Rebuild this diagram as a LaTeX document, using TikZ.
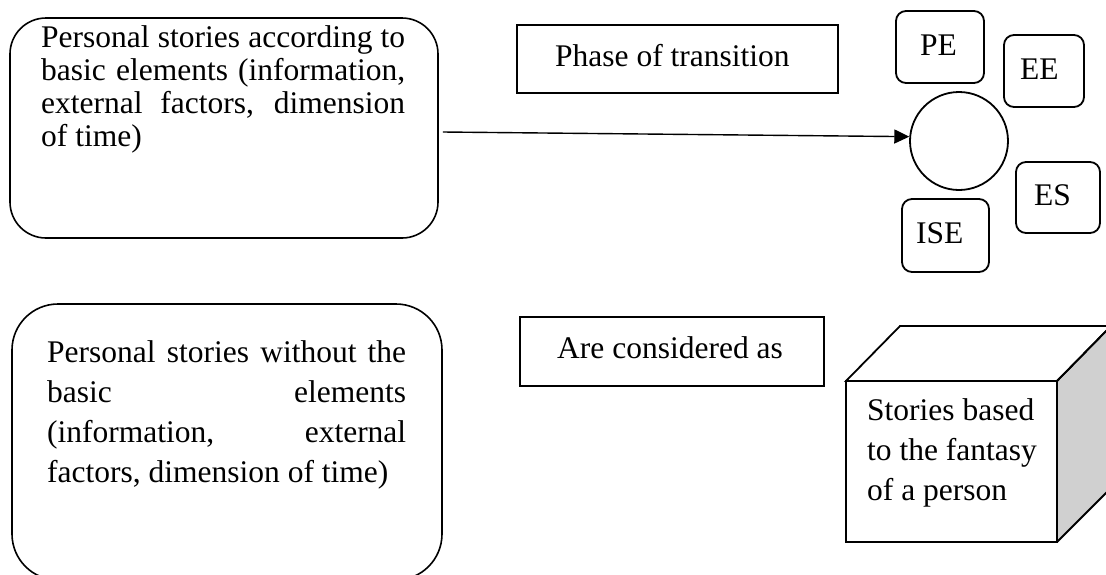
\documentclass[tikz,border=0pt]{standalone}
\usepackage{fontspec}
\setmainfont{Liberation Serif}
\usetikzlibrary{arrows.meta}
\definecolor{cubeside}{RGB}{208,208,208}
% one justified line of a given width
\newcommand\justrow[2]{\hbox{\makebox[#1][s]{#2}}}
\newcommand\leftrow[1]{\hbox{#1}}
\tikzset{
  rbox/.style={draw, line width=1.6pt, rectangle, inner sep=0pt},
  sbox/.style={draw, line width=1.8pt, rectangle, rounded corners=10pt, inner sep=0pt},
  pbox/.style={draw, line width=2.2pt, rectangle, inner sep=0pt},
  txt/.style={anchor=base west, inner sep=0pt, font=\fontsize{31.5}{33}\selectfont},
  cubeline/.style={line width=1.8pt, line join=miter},
}
\begin{document}
\begin{tikzpicture}[x=1pt, y=-1pt]
\useasboundingbox (0,0) rectangle (1106,574);
\clip (0,0) rectangle (1106,574);

% upper left: stories with the basic elements
\node[rbox, rounded corners=36pt, minimum width=428pt, minimum height=220pt] (withel) at (224,128) {};
\node[txt] (withtxt) at (41,47) {\vtop{\fontsize{31.5}{33}\selectfont
  \justrow{364pt}{Personal stories according to}
  \justrow{364pt}{basic elements (information,}
  \justrow{364pt}{external factors, dimension}
  \leftrow{of time)}}};

% lower left: stories without the basic elements
\node[rbox, rounded corners=46pt, minimum width=430pt, minimum height=276pt] (withoutel) at (227,442) {};
\node[txt] (withouttxt) at (47,362) {\vtop{\fontsize{31.5}{40}\selectfont
  \justrow{359pt}{Personal stories without the}
  \justrow{359pt}{basic elements}
  \justrow{359pt}{(information, external}
  \leftrow{factors, dimension of time)}}};

% middle labels
\node[pbox, minimum width=321pt, minimum height=68pt] (phase) at (677.5,59) {};
\node[txt] (phasetxt) at (555,66) {Phase of transition};
\node[pbox, minimum width=304pt, minimum height=69pt] (considered) at (672,351.5) {};
\node[txt] (consideredtxt) at (557,358) {Are considered as};

% hub with its four elements
\node[draw, circle, line width=1.8pt, minimum size=98pt, inner sep=0pt] (hub) at (959,141) {};
\node[sbox, minimum width=88pt, minimum height=72pt] (pe) at (940,47) {};
\node[txt] (petxt) at (920,55) {PE};
\node[sbox, minimum width=80pt, minimum height=72pt] (ee) at (1044,71) {};
\node[txt] (eetxt) at (1020,79) {EE};
\node[sbox, minimum width=84pt, minimum height=71pt] (es) at (1058,197.5) {};
\node[txt] (estxt) at (1034,205) {ES};
\node[sbox, minimum width=87pt, minimum height=73pt] (ise) at (945.5,235.5) {};
\node[txt] (isetxt) at (916,243) {ISE};

% connector into the hub
\coordinate (arrowfrom) at ([xshift=4pt, yshift=-4pt]withel.east);
\draw[line width=1.4pt, -{Triangle[length=15pt, width=14pt]}] (arrowfrom) -- (hub.175);

% cube
\coordinate (fa) at (846,381);
\coordinate (fb) at (1057,381);
\coordinate (fc) at (1057,542);
\coordinate (fd) at (846,542);
\coordinate (ba) at (900,326);
\coordinate (bb) at (1111,326);
\coordinate (bc) at (1111,488);
\fill[cubeside] (fb) -- (bb) -- (bc) -- (fc) -- cycle;
\draw[cubeline, fill=white] (fa) -- (ba) -- (bb) -- (fb) -- cycle;
\draw[cubeline] (fb) -- (bb) -- (bc) -- (fc);
\draw[cubeline, fill=white] (fa) rectangle (fc);
\node[txt] (cubetxt) at (867,420) {\vtop{\fontsize{31.5}{40}\selectfont
  \leftrow{Stories based}
  \leftrow{to the fantasy}
  \leftrow{of a person}}};
\end{tikzpicture}
\end{document}
